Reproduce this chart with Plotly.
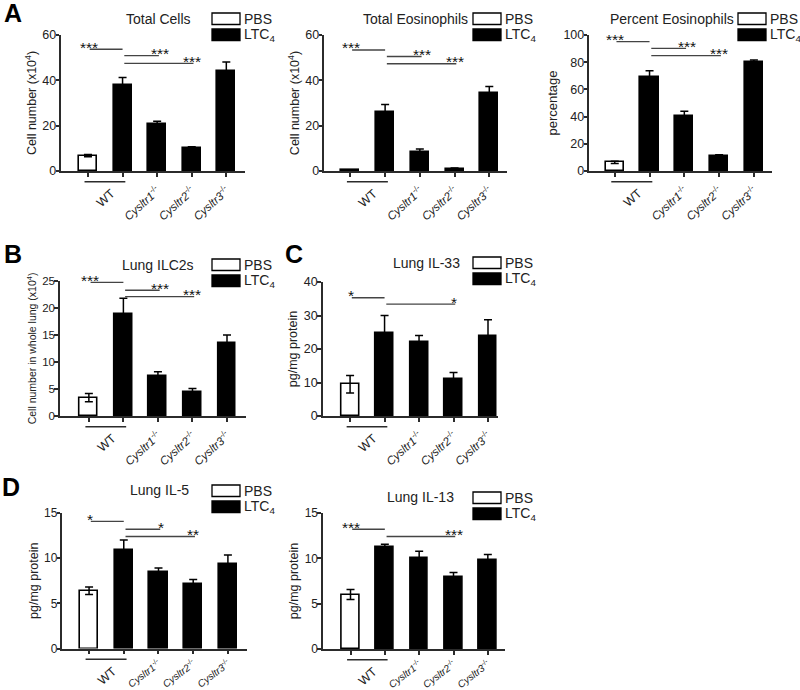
import plotly.graph_objects as go

W, H = 800, 690

# ---------------- data ----------------
genotype_labels = ["WT", "WT", "Cysltr1", "Cysltr2", "Cysltr3"]
treatments = ["PBS", "LTC4", "LTC4", "LTC4", "LTC4"]
positions = [0, 1, 2, 3, 4]

total_cells = [6.8, 37.9, 20.7, 10.0, 44.0]
total_cells_err = [0.5, 3.4, 1.2, 0.7, 4.1]

total_eos = [0.4, 26.2, 8.4, 0.9, 34.5]
total_eos_err = [0.2, 3.1, 1.3, 0.4, 2.8]

pct_eos = [6.4, 69.1, 40.2, 10.8, 80.4]
pct_eos_err = [0.8, 4.7, 3.7, 1.2, 1.2]

ilc2 = [3.4, 18.9, 7.5, 4.5, 13.6]
ilc2_err = [0.75, 2.9, 0.7, 0.6, 1.4]

il33 = [9.5, 24.7, 22.1, 11.0, 23.9]
il33_err = [2.6, 5.3, 1.9, 2.0, 4.8]

il5 = [6.4, 10.85, 8.5, 7.15, 9.35]
il5_err = [0.42, 1.15, 0.4, 0.5, 1.0]

il13 = [6.0, 11.2, 10.0, 7.95, 9.85]
il13_err = [0.55, 0.35, 0.77, 0.5, 0.58]

# significance brackets: (from, to, level, label)
sig_total_cells = [(0, 1, 53.7, "***"), (1, 2, 50.9, "***"), (1, 3, 47.5, "***")]
sig_total_eos = [(0, 1, 53.4, "***"), (1, 2, 50.5, "***"), (1, 3, 47.3, "***")]
sig_pct_eos = [(0, 1, 95.1, "***"), (1, 2, 90.2, "***"), (1, 3, 84.8, "***")]
sig_ilc2 = [(0, 1, 24.75, "***"), (1, 2, 23.3, "***"), (1, 3, 22.1, "***")]
sig_il33 = [(0, 1, 35.3, "*"), (1, 3, 33.4, "*")]
sig_il5 = [(0, 1, 14.07, "*"), (1, 2, 13.2, "*"), (1, 3, 12.4, "**")]
sig_il13 = [(0, 1, 13.2, "***"), (1, 3, 12.4, "***")]

FONT = "Arial, Liberation Sans, sans-serif"
AX = "#2b2b2b"

panels = [
    dict(vals=total_cells, err=total_cells_err, sig=sig_total_cells, title="Total Cells",
         ytitle="Cell number (x10<sup>4</sup>)", ytfs=12.5, tfs=12.5, xfs=11.5, xso=3, xang=-42,
         px=(61, 245), py=(35, 171),
         xr=(-0.78, 4.54), ymax=60, dtick=20, title_c=158, title_y=19, leg=(212, 13)),
    dict(vals=total_eos, err=total_eos_err, sig=sig_total_eos, title="Total Eosinophils",
         ytitle="Cell number (x10<sup>4</sup>)", ytfs=12.5, tfs=12.5, xfs=11.5, xso=3, xang=-42,
         px=(324, 507), py=(35, 171),
         xr=(-0.76, 4.51), ymax=60, dtick=20, title_c=415, title_y=19, leg=(473, 13)),
    dict(vals=pct_eos, err=pct_eos_err, sig=sig_pct_eos, title="Percent Eosinophils",
         ytitle="percentage", ytfs=13, tfs=12.5, xfs=11.5, xso=3, xang=-42,
         px=(589, 772), py=(35, 171),
         xr=(-0.74, 4.52), ymax=100, dtick=20, title_c=672, title_y=19, leg=(738, 13)),
    dict(vals=ilc2, err=ilc2_err, sig=sig_ilc2, title="Lung ILC2s",
         ytitle="Cell number in whole lung (x10<sup>4</sup>)", ytfs=10.5, tfs=11.5, xfs=11.5, xso=3, xang=-42,
         px=(59.5, 246), py=(281, 416),
         xr=(-0.85, 4.55), ymax=25, dtick=5, title_c=158, title_y=265, leg=(212, 259)),
    dict(vals=il33, err=il33_err, sig=sig_il33, title="Lung IL-33",
         ytitle="pg/mg protein", ytfs=12.5, tfs=12.5, xfs=11.5, xso=3, xang=-42,
         px=(322.5, 498), py=(282, 416),
         xr=(-0.80, 4.29), ymax=40, dtick=10, title_c=427, title_y=263, leg=(473, 257)),
    dict(vals=il5, err=il5_err, sig=sig_il5, title="Lung IL-5",
         ytitle="pg/mg protein", ytfs=12.5, tfs=12, xfs=10, xso=0, xang=-37,
         px=(62, 247), py=(513, 648.5),
         xr=(-0.78, 4.55), ymax=15, dtick=5, title_c=159, title_y=490, leg=(212, 485)),
    dict(vals=il13, err=il13_err, sig=sig_il13, title="Lung IL-13",
         ytitle="pg/mg protein", ytfs=12.5, tfs=12, xfs=10, xso=0, xang=-37,
         px=(322.7, 505), py=(513, 649),
         xr=(-0.81, 4.5), ymax=15, dtick=5, title_c=420, title_y=497, leg=(473, 492)),
]

letters = [("A", 12.5, 13), ("B", 12.5, 254), ("C", 293.5, 254), ("D", 11, 487)]

label_positions = positions[2:]
tick_text = ["<i>%s</i><sup>-/-</sup>" % g for g in genotype_labels[2:]]
bar_colors = ["white" if t == "PBS" else "black" for t in treatments]

fig = go.Figure()
shapes = []
annotations = []
layout = {}


def px2x(p):
    return p / W


def px2y(p):
    return 1 - p / H


for i, p in enumerate(panels):
    n = "" if i == 0 else str(i + 1)
    xa, ya = "x" + n, "y" + n
    fig.add_trace(go.Bar(
        x=positions, y=p["vals"], width=0.52,
        marker=dict(color=bar_colors, line=dict(color="black", width=1.6)),
        error_y=dict(type="data", array=p["err"], color="black", thickness=1.5, width=4),
        xaxis=xa, yaxis=ya, showlegend=False, hoverinfo="skip"))
    layout["xaxis" + n] = dict(
        domain=[px2x(p["px"][0]), px2x(p["px"][1])], anchor=ya, range=list(p["xr"]),
        automargin=False,
        showline=True, linecolor=AX, linewidth=1.5, ticks="outside", ticklen=4,
        tickwidth=1.5, tickcolor=AX, tickvals=label_positions, ticktext=tick_text,
        minor=dict(tickvals=positions[:2], ticks="outside", ticklen=4, tickwidth=1.5, tickcolor=AX),
        tickangle=p["xang"], tickfont=dict(size=p["xfs"], color="#222", family=FONT),
        ticklabelstandoff=p["xso"], showgrid=False, zeroline=False, fixedrange=True)
    layout["yaxis" + n] = dict(
        domain=[px2y(p["py"][1]), px2y(p["py"][0])], anchor=xa, range=[0, p["ymax"]],
        automargin=False,
        showline=True, linecolor=AX, linewidth=1.5, ticks="outside", ticklen=3.5,
        tickwidth=1.5, tickcolor=AX, dtick=p["dtick"], tick0=0, ticklabelstandoff=-3,
        tickfont=dict(size=p["tfs"], color="#222", family=FONT), showgrid=False, zeroline=False,
        title=dict(text=p["ytitle"], font=dict(size=p["ytfs"], color="#222", family=FONT), standoff=3),
        fixedrange=True)
    # WT underline below axis
    yl = px2y(p["py"][1] + 10.7)
    shapes.append(dict(type="line", xref=xa, yref="paper", x0=-0.1, x1=1.08, y0=yl, y1=yl,
                       line=dict(color=AX, width=1.5)))
    annotations.append(dict(text="WT", xref=xa, yref="paper", x=0.52, y=px2y(p["py"][1] + 27),
                            xanchor="center", yanchor="middle",
                            showarrow=False, textangle=-42,
                            font=dict(size=12.5, color="#222", family=FONT)))
    # significance
    for (a, b, lv, lab) in p["sig"]:
        shapes.append(dict(type="line", xref=xa, yref=ya, x0=a + 0.05, x1=b + (0.05 if b > 1 else 0),
                           y0=lv, y1=lv, line=dict(color="#444", width=1.4)))
        sx = 0.02 if a == 0 and b == 1 else (b + 0.07 if b == 2 else b)
        annotations.append(dict(text=lab, xref=xa, yref=ya, x=sx, y=lv, yanchor="middle",
                                xanchor="center", yshift=2, showarrow=False,
                                font=dict(size=15.5, color="#111", family=FONT)))
    # title
    annotations.append(dict(text=p["title"], xref="paper", yref="paper",
                            x=px2x(p["title_c"]), y=px2y(p["title_y"]), xanchor="center",
                            yanchor="middle", showarrow=False,
                            font=dict(size=14, color="#222", family=FONT)))
    # legend boxes
    lx, ly = p["leg"]
    for k, (lab, col) in enumerate([("PBS", "white"), ("LTC<sub>4</sub>", "black")]):
        top = ly + k * 16
        shapes.append(dict(type="rect", xref="paper", yref="paper",
                           x0=px2x(lx), x1=px2x(lx + 28), y0=px2y(top + 11.5), y1=px2y(top),
                           fillcolor=col, line=dict(color="black", width=1.3)))
        annotations.append(dict(text=lab, xref="paper", yref="paper", x=px2x(lx + 30),
                                y=px2y(top + 6), xanchor="left", yanchor="middle",
                                showarrow=False, font=dict(size=14, color="#222", family=FONT)))

for (L, cx, cy) in letters:
    annotations.append(dict(text="<b>%s</b>" % L, xref="paper", yref="paper", x=px2x(cx),
                            y=px2y(cy), xanchor="center", yanchor="middle", showarrow=False,
                            font=dict(size=25, color="black", family=FONT)))

fig.update_layout(width=W, height=H, margin=dict(l=0, r=0, t=0, b=0, autoexpand=False),
                  paper_bgcolor="white", plot_bgcolor="white", showlegend=False,
                  shapes=shapes, annotations=annotations, bargap=0,
                  font=dict(family=FONT), **layout)

fig.write_html("out.html", config={"displayModeBar": False},
               post_script="document.body.style.margin='0';document.body.style.overflow='hidden';")
